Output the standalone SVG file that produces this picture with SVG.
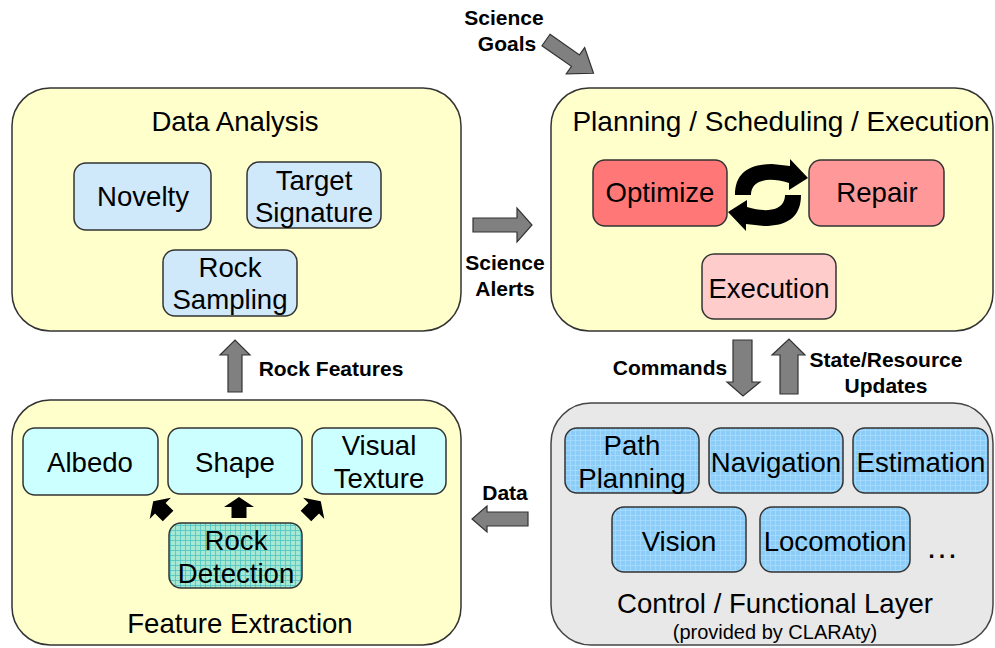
<svg xmlns="http://www.w3.org/2000/svg" width="995" height="648" viewBox="0 0 995 648">
<defs>
<pattern id="gridTeal" width="5" height="5" patternUnits="userSpaceOnUse">
<rect width="5" height="5" fill="#a6e8d2"/>
<path d="M0,0.5 H5 M0.5,0 V5" stroke="#4cc4c4" stroke-width="0.8"/>
</pattern>
<pattern id="gridBlue" width="5" height="5" patternUnits="userSpaceOnUse">
<rect width="5" height="5" fill="#8ccdf8"/>
<path d="M0,0.5 H5 M0.5,0 V5" stroke="#a8dcff" stroke-width="0.8"/>
</pattern>
<polygon id="smallArrow" points="0,-11 15,-1 7.5,-1 7.5,10 -7.5,10 -7.5,-1 -15,-1" fill="#000"/>
</defs>
<style>
.outer{fill:#ffffcc;stroke:#333;stroke-width:1.5}
.ctrl{fill:#e8e8e8;stroke:#444;stroke-width:1.5}
.box{stroke:#333;stroke-width:1.5}
.da{fill:#cfe8fa}
.fe{fill:#ccffff}
.opt{fill:#ff7777}
.rep{fill:#ff9999}
.exe{fill:#ffcccc}
.t{font-family:"Liberation Sans",Arial,sans-serif;font-size:27.6px;text-anchor:middle;fill:#000}
.s{font-family:"Liberation Sans",Arial,sans-serif;font-size:20px;text-anchor:middle;fill:#000}
.b{font-family:"Liberation Sans",Arial,sans-serif;font-size:21px;font-weight:bold;text-anchor:middle;fill:#000}
.blk{fill:#808080;stroke:#333;stroke-width:1.2}
</style>

<g id="data-analysis">
<rect class="outer" x="12" y="88" width="449" height="243" rx="38"/>
<text class="t" x="235" y="131">Data Analysis</text>
<g id="novelty"><rect class="box da" x="74" y="163" width="137" height="67" rx="12"/><text class="t" x="143" y="206">Novelty</text></g>
<g id="target-signature"><rect class="box da" x="247" y="162" width="134" height="66" rx="12"/><text class="t" x="314" y="190">Target</text><text class="t" x="314" y="222">Signature</text></g>
<g id="rock-sampling"><rect class="box da" x="163" y="250" width="134" height="66" rx="12"/><text class="t" x="230" y="277">Rock</text><text class="t" x="230" y="309">Sampling</text></g>
</g>

<g id="planning">
<rect class="outer" x="551" y="88" width="442" height="243" rx="38"/>
<text class="t" x="781" y="131" style="font-size:28px">Planning / Scheduling / Execution</text>
<g id="optimize"><rect class="box opt" x="593" y="160" width="134" height="66" rx="12"/><text class="t" x="660" y="202">Optimize</text></g>
<g id="repair"><rect class="box rep" x="809" y="160" width="135" height="66" rx="12"/><text class="t" x="877" y="202">Repair</text></g>
<g id="execution"><rect class="box exe" x="702" y="254" width="134" height="65" rx="12"/><text class="t" x="769" y="298">Execution</text></g>
</g>

<g id="feature-extraction">
<rect class="outer" x="12" y="400" width="449" height="245" rx="38"/>
<text class="t" x="240" y="633">Feature Extraction</text>
<g id="albedo"><rect class="box fe" x="23" y="428" width="135" height="67" rx="12"/><text class="t" x="90" y="472">Albedo</text></g>
<g id="shape"><rect class="box fe" x="168" y="428" width="134" height="66" rx="12"/><text class="t" x="235" y="472">Shape</text></g>
<g id="visual-texture"><rect class="box fe" x="312" y="428" width="134" height="66" rx="12"/><text class="t" x="379" y="455">Visual</text><text class="t" x="379" y="488">Texture</text></g>
<g id="rock-detection"><rect class="box" fill="url(#gridTeal)" x="169" y="523" width="133" height="65" rx="12"/><text class="t" x="236" y="550">Rock</text><text class="t" x="236" y="583">Detection</text></g>
</g>

<g id="control-layer">
<rect class="ctrl" x="551" y="403" width="442" height="242" rx="40"/>
<text class="t" x="775" y="613">Control / Functional Layer</text>
<text class="s" x="775" y="639">(provided by CLARAty)</text>
<g id="path-planning"><rect class="box" fill="url(#gridBlue)" x="565" y="428" width="134" height="65" rx="12"/><text class="t" x="632" y="455">Path</text><text class="t" x="632" y="488">Planning</text></g>
<g id="navigation"><rect class="box" fill="url(#gridBlue)" x="709" y="428" width="134" height="65" rx="12"/><text class="t" x="776" y="472">Navigation</text></g>
<g id="estimation"><rect class="box" fill="url(#gridBlue)" x="853" y="428" width="135" height="65" rx="12"/><text class="t" x="921" y="472">Estimation</text></g>
<g id="vision"><rect class="box" fill="url(#gridBlue)" x="612" y="507" width="134" height="65" rx="12"/><text class="t" x="679" y="551">Vision</text></g>
<g id="locomotion"><rect class="box" fill="url(#gridBlue)" x="760" y="507" width="150" height="65" rx="12"/><text class="t" x="835" y="551">Locomotion</text></g>
<text class="t" x="942" y="558" style="font-size:33px">…</text>
</g>

<g id="connectors">
<!-- Science Goals -->
<polygon class="blk" transform="translate(546,40) rotate(35)" points="0,-7 36,-7 36,-16 58,0 36,16 36,7 0,7"/>
<text class="b" x="504" y="25">Science</text>
<text class="b" x="507" y="51">Goals</text>
<!-- Science Alerts -->
<polygon class="blk" points="473,218 517,218 517,208 532,225 517,242 517,232 473,232"/>
<text class="b" x="505" y="270">Science</text>
<text class="b" x="505" y="296">Alerts</text>
<!-- Rock Features -->
<polygon class="blk" points="228,392 228,355 220,355 235,340 250,355 242,355 242,392"/>
<text class="b" x="331" y="376">Rock Features</text>
<!-- Commands -->
<polygon class="blk" points="733,340 752,340 752,382 760,382 743,396 727,382 733,382"/>
<text class="b" x="670" y="375">Commands</text>
<!-- State/Resource Updates -->
<polygon class="blk" points="780,394 798,394 798,355 805,355 789,339 772,355 780,355"/>
<text class="b" x="886" y="367">State/Resource</text>
<text class="b" x="886" y="393">Updates</text>
<!-- Data -->
<polygon class="blk" points="528,512 487,512 487,506 472,519 487,532 487,526 528,526"/>
<text class="b" x="505" y="500">Data</text>
<!-- Optimize <-> Repair curved arrows -->
<path d="M735,195 C735,172 750,164 772,164 L790,166 L790,159 L808,178 L789,190 L789,183 C776,179 766,179 759,182 C753,185 751,190 751,195 Z" fill="#000"/>
<path d="M735,195 C735,172 750,164 772,164 L790,166 L790,159 L808,178 L789,190 L789,183 C776,179 766,179 759,182 C753,185 751,190 751,195 Z" fill="#000" transform="rotate(180 768 195)"/>
<!-- Rock detection feature arrows -->
<use href="#smallArrow" transform="translate(161,509) rotate(-45)"/>
<use href="#smallArrow" transform="translate(239,508)"/>
<use href="#smallArrow" transform="translate(313,509) rotate(45)"/>
</g>
</svg>
